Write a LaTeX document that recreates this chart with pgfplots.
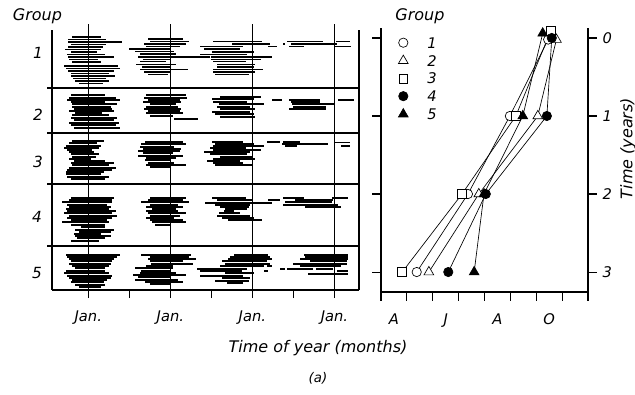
\documentclass[border=0pt]{standalone}
\usepackage{fontspec}
\setmainfont{DejaVu Sans}
\usepackage{pgfplots}
\usepackage{pgfplotstable}
\pgfplotsset{compat=1.18}

% Left panel: one row per animal segment: y (row position), a (start, months from first Jan.), b (end)
\pgfplotstableread{
y a b
37 -2.4 1.8
39.5 -2.9 2.6
42 -3.0 4.9
44.5 -2.6 2.6
47 -2.9 2.2
49.5 -3.4 1.8
52 -2.6 1.3
54.5 -3.1 2.4
57 -2.9 3.8
59.5 -2.8 1.4
62 -2.4 1.9
66 -3.6 4.4
68.5 -3.3 4.7
71 -2.9 3.8
73.5 -2.6 3.0
76 -2.6 3.9
78.5 -2.3 2.6
81 -1.9 3.0
83.5 -1.4 2.2
39 8.7 13.85
41.5 9.0 14.8
44 8.2 14.3
46.5 8.5 13.4
49 6.0 12.0
51.5 6.8 12.6
54 7.5 12.9
57 7.3 17.8
59.5 8.0 11.9
61.5 7.5 11.4
64.5 7.0 12.9
67 7.8 12.15
69.5 7.5 14.6
72 8.2 12.15
74.5 8.7 11.6
41.5 18.3 25.4
44 21.0 26.6
46.5 16.4 22.7
49 16.9 22.2
52 18.1 24.2
54.5 16.4 23.2
57 17.9 26.9
59.5 17.9 25.2
61.5 18.3 23.0
64.5 18.8 24.45
67 18.8 24.2
69.5 18.3 25.6
72 18.3 24.45
74.5 18.6 23.5
41.5 29.1 34.3
41.5 36.3 38.3
44 28.5 28.8
44 29.6 36.4
46.5 26.3 27.6
46.5 29.3 31.5
46.5 35.9 38.5
}\groupone

\pgfplotstableread{
y a b
95.3 -2.6 2.5
97.7 -2.8 4.0
100 -3.1 4.7
102 -2.6 2.5
104.3 -2.35 4.2
106.7 -2.35 3.3
108.7 -2.1 3.5
111 -2.8 3.75
113.3 -1.9 2.05
115.3 -2.35 3.0
117.7 -2.6 4.2
120 -2.1 3.75
122.7 -2.8 4.5
125.3 -2.6 4.0
127.7 -2.1 4.7
95.3 8.5 14.3
97.7 8.2 14.5
100 8.7 13.35
102 8.0 13.6
104.3 9.0 12.9
106.7 8.5 13.1
108.7 8.2 13.6
111 8.7 13.35
113.3 8.5 13.85
116 9.0 12.4
118.7 12.6 16.0
96.7 19.3 25.2
99.3 18.1 24.2
101.7 18.3 23.2
104.3 19.1 25.65
106.7 18.8 23.7
109.3 19.3 24.4
111.7 18.1 23.7
114 18.6 24.2
116.7 19.3 24.4
100 26.9 28.4
100 29.3 33.95
100 36.6 38.8
102 29.6 33.95
104.3 29.85 36.15
106.7 30.0 34.7
109.3 29.3 34.7
}\grouptwo

\pgfplotstableread{
y a b
141 -2.35 2.3
143.3 -2.8 1.3
145.7 -3.3 1.8
147.7 -3.6 1.55
150 -3.1 0.58
152 -2.8 0.83
154.3 -2.6 1.55
156.7 -2.35 1.07
158.7 -2.8 0.34
161 -2.1 2.5
163.3 -2.6 3.75
165.3 -2.35 3.0
167.7 -2.8 4.0
170 -3.1 3.5
172 -3.3 2.3
174.3 -3.3 1.8
176.7 -3.1 3.0
179.3 -2.6 2.5
141.7 8.24 13.85
144.3 7.75 14.3
146.7 7.5 12.6
149 8.0 13.6
151 7.26 13.4
153.3 8.0 12.4
155.7 7.26 13.85
157.7 8.5 12.9
160.3 8.24 12.15
162.7 8.7 12.6
165 8.5 14.3
167 9.0 11.9
141.7 18.1 22.7
143.7 18.6 24.2
145.7 18.3 25.65
147.7 17.85 23.0
150 18.3 25.2
152 16.9 23.7
154.3 17.85 23.2
156.7 19.3 23.95
158.7 18.3 24.45
161 17.4 22.24
163.3 18.3 22.7
165 18.6 23.95
141.7 26.2 28.1
141.7 28.5 31.0
143.7 28.4 35.1
146 28.8 30.6
142.5 36.1 38.3
146 36.9 38.3
}\groupthree

\pgfplotstableread{
y a b
198 -2.6 3.75
200 -2.8 3.5
202.3 -3.8 3.5
204.7 -3.1 2.8
206.7 -2.8 3.3
209 -3.3 3.0
211.3 -3.1 4.0
213.3 -3.6 3.5
215.7 -2.8 4.2
218 -3.1 3.5
220 -2.6 2.8
222.3 -3.8 3.0
224.7 -2.6 2.5
227.3 -1.1 2.5
229.7 -1.9 3.75
231.7 -1.4 3.3
234 -2.1 1.8
236.3 -1.9 3.3
238.3 -1.6 2.5
240.7 -2.6 1.55
198 9.0 14.3
200 8.7 13.85
202.3 7.75 14.8
204.7 9.0 13.1
206.7 8.5 13.85
209 9.25 12.9
211.3 8.5 13.1
213.3 8.7 14.3
215.7 9.0 13.4
218 8.5 12.6
220 9.0 13.85
222.3 9.25 14.3
224.7 9.7 11.9
198 18.1 23.0
200 18.8 23.95
203 17.1 26.9
204.7 18.6 23.7
206.7 19.3 23.45
209 20.05 23.2
211.3 19.8 21.3
213.3 19.1 22.2
215.7 18.8 23.7
218 19.6 24.2
220 20.5 25.4
198 28.5 31.5
198 35.7 38.0
200 26.3 28.1
200 30.3 35.85
202.3 28.8 35.7
204.7 28.5 36.6
207.3 31.75 36.9
}\groupfour

\pgfplotstableread{
y a b
254.7 -3.3 4.7
256.7 -3.1 4.2
259 -2.8 3.75
261.3 -2.6 3.5
264 -2.8 3.3
266.3 -2.35 3.0
268.3 -1.9 2.5
271.3 -3.3 2.5
273.3 -3.6 3.0
275.7 -3.1 3.5
278 -2.8 3.3
280 -2.35 2.8
282.3 -2.6 2.3
284.7 -1.9 2.5
286.7 -1.4 1.8
254.7 7.75 15.0
256.7 9.0 14.8
259 8.7 15.8
261.3 9.0 13.85
264 9.2 15.3
266.3 8.5 12.4
268.3 6.8 12.4
270.7 7.75 11.9
273 7.5 12.9
275 6.5 14.3
277.3 7.3 12.15
279.7 6.8 13.1
281.7 8.24 13.85
284 9.0 11.9
254.7 21.25 26.3
256.7 20.7 26.6
259 20.5 26.9
261.3 19.6 26.1
264 20.05 26.6
266.3 19.3 25.65
266.3 26.1 26.9
269 15.95 23.2
271.3 16.4 22.45
271.3 25.65 26.3
273.3 20.05 24.2
275.7 16.4 22.7
278 19.6 23.7
280.7 18.6 23.45
283 20.25 22.7
254.7 31.5 38.0
256.7 31.75 38.0
259 31.0 38.0
261.3 32.5 37.9
264 30.0 37.9
266.3 31.0 36.9
269 28.1 28.8
269 29.1 32.9
269 33.3 35.8
271.3 36.4 38.0
274 32.2 38.0
}\groupfive

\tikzset{lab/.style={font=\fontsize{12}{14}\selectfont\itshape, inner sep=0pt}}
\pgfplotsset{segs/.style={black, only marks, mark=*, mark size=0pt,
  mark options={draw=none, fill=none},
  error bars/.cd, x dir=both, x explicit, error mark=none,
  error bar style={line width=1.35pt, black}},
  noarrows/.style={
    every non boxed x axis/.append style={x axis line style=-},
    every outer x axis line/.append style={-},
    every inner x axis line/.append style={-},
    x axis line style={-}, y axis line style={-}}}

\begin{document}
\begin{tikzpicture}
\path[use as bounding box] (0,0) rectangle (476.25pt,295.5pt);

% ---------- left panel ----------
\begin{axis}[
  at={(39pt,78pt)}, anchor=south west, scale only axis,
  width=230.25pt, height=195pt,
  xmin=-5.31, xmax=39.6, ymin=30, ymax=290, y dir=reverse,
  axis x line=bottom, axis y line=box, noarrows,
  axis line style={line width=0.8pt, black},
  xtick={0,12,24,36}, xticklabels={Jan.,Jan.,Jan.,Jan.},
  minor xtick={6,18,30},
  ytick=\empty,
  tick align=outside, major tick length=6pt, minor tick length=6pt,
  every tick/.style={line width=0.8pt, black},
  xticklabel style={font=\fontsize{11}{13}\selectfont\itshape, yshift=-6pt},
  clip=false,
]
\addplot[segs] table[x expr={(\thisrow{a}+\thisrow{b})/2}, y=y,
        x error expr={(\thisrow{b}-\thisrow{a})/2}] {\groupone};
\addplot[segs] table[x expr={(\thisrow{a}+\thisrow{b})/2}, y=y,
        x error expr={(\thisrow{b}-\thisrow{a})/2}] {\grouptwo};
\addplot[segs] table[x expr={(\thisrow{a}+\thisrow{b})/2}, y=y,
        x error expr={(\thisrow{b}-\thisrow{a})/2}] {\groupthree};
\addplot[segs] table[x expr={(\thisrow{a}+\thisrow{b})/2}, y=y,
        x error expr={(\thisrow{b}-\thisrow{a})/2}] {\groupfour};
\addplot[segs] table[x expr={(\thisrow{a}+\thisrow{b})/2}, y=y,
        x error expr={(\thisrow{b}-\thisrow{a})/2}] {\groupfive};
% Jan. lines and group separators
\draw[line width=0.75pt, black] (axis cs:0,24) -- (axis cs:0,290);
\draw[line width=0.75pt, black] (axis cs:12,24) -- (axis cs:12,290);
\draw[line width=0.75pt, black] (axis cs:24,24) -- (axis cs:24,290);
\draw[line width=0.75pt, black] (axis cs:36,24) -- (axis cs:36,290);
\draw[line width=0.8pt, black] (axis cs:-6.04,88) -- (axis cs:39.6,88);
\draw[line width=0.8pt, black] (axis cs:-6.04,133) -- (axis cs:39.6,133);
\draw[line width=0.8pt, black] (axis cs:-6.04,184) -- (axis cs:39.6,184);
\draw[line width=0.8pt, black] (axis cs:-6.04,246) -- (axis cs:39.6,246);
\end{axis}

% ---------- right panel ----------
\begin{axis}[
  at={(285.75pt,76.5pt)}, anchor=south west, scale only axis,
  width=155.25pt, height=198pt,
  xmin=3, xmax=11, ymin=-0.128, ymax=3.256, y dir=reverse,
  axis x line=bottom, axis y line=box, noarrows,
  axis line style={line width=0.8pt, black},
  xtick={3,4,5,6,7,8,9,10,11}, xticklabels={},
  extra x ticks={3.5,5.5,7.5,9.5}, extra x tick labels={A,J,A,O},
  extra x tick style={tick style={draw=none}},
  ytick={0,1,2,3}, yticklabels={0,1,2,3}, ytick pos=both, yticklabel pos=right,
  tick align=outside, major tick length=6.5pt,
  every tick/.style={line width=0.8pt, black},
  xticklabel style={font=\fontsize{11}{13}\selectfont\itshape, yshift=-6pt},
  yticklabel style={font=\fontsize{11}{13}\selectfont\itshape, xshift=1pt},
  clip=false,
  legend image code/.code={\draw[#1] plot[only marks] coordinates {(0pt,0pt)};},
  legend style={draw=none, fill=none, at={(0.083,0.9655)}, anchor=north west,
    inner sep=0pt, row sep=5.3pt,
    font=\fontsize{11}{13}\selectfont\itshape,
    nodes={inner sep=0pt, text height=8pt, text depth=0pt},
    /tikz/every odd column/.append style={column sep=14.4pt}},
  legend cell align=left,
]
\addplot[black, line width=0.5pt, mark=*, mark size=3.5pt, mark options={fill=white}]
  coordinates {(9.46,0.02) (7.98,1) (6.36,2) (4.38,3)};
\addplot[black, line width=0.5pt, mark=triangle*, mark size=4.2pt, mark options={fill=white}]
  coordinates {(9.78,0.02) (9.06,1) (6.78,2) (4.85,3)};
\addplot[black, line width=0.5pt, mark=square*, mark size=3.3pt, mark options={fill=white}]
  coordinates {(9.56,-0.09) (8.21,1) (6.13,2) (3.82,3)};
\addplot[black, line width=0.5pt, mark=*, mark size=3.5pt, mark options={fill=black}]
  coordinates {(9.6,0.0) (9.41,1) (7.05,2) (5.6,3)};
\addplot[black, line width=0.5pt, mark=triangle*, mark size=4.2pt, mark options={fill=black}]
  coordinates {(9.25,-0.06) (8.48,1) (6.98,2) (6.6,3)};
\legend{1,2,3,4,5}
\end{axis}

% ---------- texts (positions in reference pixels) ----------
\begin{scope}[x=0.75pt,y=0.75pt]
\node[lab] at (37.5,378) {Group};
\node[lab, font=\fontsize{11.5}{13}\selectfont\itshape] at (38,341) {1};
\node[lab, font=\fontsize{11.5}{13}\selectfont\itshape] at (38,279) {2};
\node[lab, font=\fontsize{11.5}{13}\selectfont\itshape] at (38,232) {3};
\node[lab, font=\fontsize{11.5}{13}\selectfont\itshape] at (37,177) {4};
\node[lab, font=\fontsize{11.5}{13}\selectfont\itshape] at (37,121) {5};
\node[lab] at (420,378) {Group};
\node[lab] at (318,46) {Time of year (months)};
\node[lab, font=\fontsize{10}{12}\selectfont\itshape] at (318,16) {(a)};
\node[lab, rotate=90] at (628,245.5) {Time (years)};
\end{scope}
\end{tikzpicture}
\end{document}
